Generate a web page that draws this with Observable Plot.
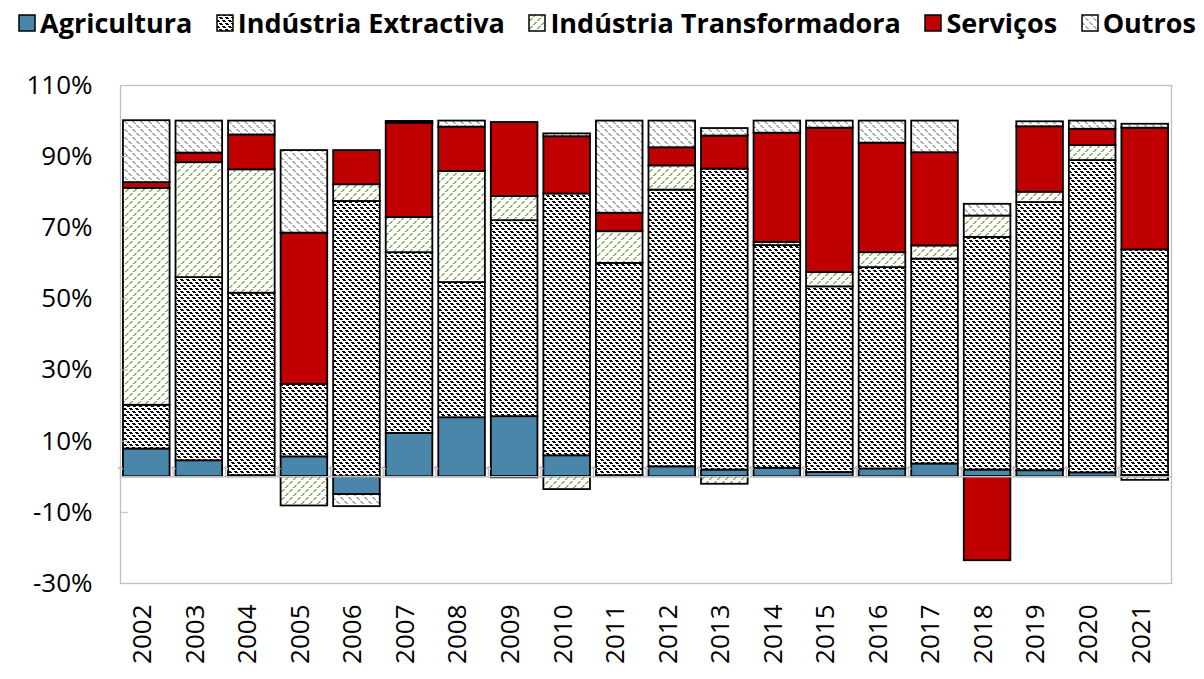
<!DOCTYPE html>
<html>
<head>
<meta charset="utf-8">
<script src="https://cdn.jsdelivr.net/npm/d3@7"></script>
<script src="https://cdn.jsdelivr.net/npm/@observablehq/plot@0.6"></script>
<style>
  html, body { margin: 0; padding: 0; background: white; }
  body { width: 1204px; height: 679px; overflow: hidden; font-family: "Open Sans", sans-serif; }
  #legend { height: 45px; display: flex; align-items: center; justify-content: space-between;
            padding: 0 8px 0 18px; box-sizing: border-box; font-weight: 700; font-size: 27px; color: #000; }
  #legend .item { display: flex; align-items: center; white-space: nowrap; }
  #legend svg { margin-right: 4px; }
</style>
</head>
<body>
<svg width="0" height="0" style="position:absolute">
  <defs id="defs"></defs>
</svg>
<div id="legend"></div>
<div id="chart"></div>
<script>
const years = [2002, 2003, 2004, 2005, 2006, 2007, 2008, 2009, 2010, 2011,
               2012, 2013, 2014, 2015, 2016, 2017, 2018, 2019, 2020, 2021];
const seriesNames = ["Agricultura", "Indústria Extractiva", "Indústria Transformadora", "Serviços", "Outros"];
const agricultura    = [7.8, 4.5, 0.3, 5.6, -5.0, 12.2, 16.6, 16.9, 5.9, 0.3, 2.8, 1.9, 2.4, 1.2, 2.2, 3.6, 1.9, 1.7, 1.1, 0.4];
const extractiva     = [12.3, 51.5, 51.3, 20.4, 77.4, 50.8, 38.0, 55.1, 73.6, 59.7, 77.8, 84.6, 62.6, 52.2, 56.6, 57.6, 65.4, 75.4, 87.8, 63.4];
const transformadora = [61.0, 32.3, 34.7, -8.2, 4.7, 9.9, 31.2, 6.8, -3.6, 8.9, 6.8, -2.1, 0.9, 4.0, 4.2, 3.7, 6.0, 2.9, 4.2, -1.0];
const servicos       = [1.6, 2.7, 9.8, 42.5, 9.6, 26.5, 12.5, 20.8, 16.1, 5.2, 5.1, 9.3, 30.7, 40.6, 30.8, 26.2, -23.6, 18.4, 4.6, 34.2];
const outros         = [17.4, 9.0, 3.9, 23.2, -3.4, 0.5, 1.7, -0.3, 0.8, 25.9, 7.5, 2.1, 3.4, 2.0, 6.2, 8.9, 3.3, 1.4, 2.3, 1.1];
const yTicks = [-30, -10, 10, 30, 50, 70, 90, 110];

// hatch patterns (pixel staircase lines, like the spreadsheet hatches)
function hatch(id, size, dir, on, period, color, bg, thick) {
  let rects = `<rect width="${size}" height="${size}" fill="${bg}"/>`;
  for (let i = 0; i < size; i++) {
    if (i % period >= on) continue;
    const x = dir === "\\" ? i : (size - 1 - i);
    rects += `<rect x="${x}" y="${i}" width="${thick}" height="1" fill="${color}"/>`;
    if (x + thick > size) rects += `<rect x="${x - size}" y="${i}" width="${thick}" height="1" fill="${color}"/>`;
  }
  return `<pattern id="${id}" patternUnits="userSpaceOnUse" width="${size}" height="${size}" shape-rendering="crispEdges">${rects}</pattern>`;
}
document.getElementById("defs").innerHTML =
  `<pattern id="p-agri" patternUnits="userSpaceOnUse" width="4" height="4"><rect width="4" height="4" fill="#4a86aa"/></pattern>` +
  hatch("p-extr", 6, "\\", 2, 3, "#000", "#fff", 3) +
  hatch("p-transf", 8, "/", 3, 4, "#8ab463", "#fff", 2) +
  `<pattern id="p-serv" patternUnits="userSpaceOnUse" width="4" height="4"><rect width="4" height="4" fill="#c00000"/></pattern>` +
  hatch("p-outros", 8, "\\", 3, 4, "#a6a6a6", "#fff", 2);

const fills = ["url(#p-agri)", "url(#p-extr)", "url(#p-transf)", "url(#p-serv)", "url(#p-outros)"];
const seriesValues = [agricultura, extractiva, transformadora, servicos, outros];

const rows = [];
seriesNames.forEach((s, i) => seriesValues[i].forEach((v, j) => rows.push({year: years[j], series: s, value: v})));

// legend
const legend = document.getElementById("legend");
seriesNames.forEach((s, i) => {
  const item = document.createElement("div");
  item.className = "item";
  item.innerHTML = `<svg width="18" height="18"><rect x="1" y="1" width="16" height="16" fill="${fills[i]}" stroke="black" stroke-width="1.5"/></svg><span>${s}</span>`;
  legend.appendChild(item);
});

const W = 1204, H = 634, mL = 120, mR = 33;
const step = (W - mL - mR) / years.length;
const gap = step * 0.0565;

const chart = Plot.plot({
  width: W, height: H,
  marginTop: 40, marginBottom: 96, marginLeft: mL, marginRight: mR,
  style: {fontFamily: "'Open Sans', sans-serif", fontSize: "26px", color: "black", background: "white"},
  x: {domain: [years[0] - 0.5, years[years.length - 1] + 0.5]},
  y: {domain: [-30, 110]},
  color: {domain: seriesNames, range: fills},
  marks: [
    Plot.frame({stroke: "#bfbfbf", strokeWidth: 1.3}),
    Plot.rectY(rows, Plot.stackY({x1: d => d.year - 0.5, x2: d => d.year + 0.5, y: "value", fill: "series", z: "series",
      stroke: "black", strokeWidth: 1.8, insetLeft: gap, insetRight: gap})),
    Plot.ruleY([0], {stroke: "#bfbfbf", strokeWidth: 1.5}),
    Plot.vector(years, {x: d => d - 0.5, y: 0, length: 10, rotate: 0, anchor: "start", stroke: "#bfbfbf", strokeWidth: 1.3}),
    Plot.axisY({ticks: yTicks, tickFormat: d => d + "%", tickSize: -8, tickPadding: 36, stroke: "#bfbfbf", label: null, fontSize: 26}),
    Plot.axisX({ticks: years, tickFormat: d => String(d), tickSize: 0, tickRotate: -90, tickPadding: 21, label: null, fontSize: 26, dx: -4})
  ]
});
document.getElementById("chart").appendChild(chart);
</script>
</body>
</html>
